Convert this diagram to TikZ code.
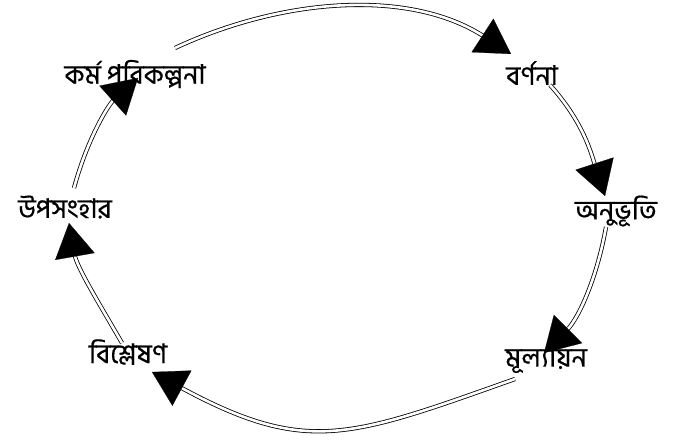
\documentclass[tikz,border=0pt]{standalone}
\usepackage{fontspec}
\newfontfamily\bnfont[Script=Bengali,FakeBold=0.6]{Hind Siliguri}
\usetikzlibrary{arrows.meta}
\tikzset{
  lbl/.style={font=\bnfont\fontsize{27}{30}\selectfont, inner sep=0pt},
  dbl/.style={draw=black, line width=0.8pt, double=white, double distance=2.6pt, shorten >=32pt},
  tipline/.style={draw=white, line width=0.2pt, -{Triangle[length=34pt,width=40pt,color=black]}}
}
\begin{document}
\begin{tikzpicture}[x=1pt,y=1pt]
\useasboundingbox (0,0) rectangle (679,439);
% labels
\node[lbl] (plan) at (135,365) {কর্ম পরিকল্পনা};
\node[lbl] (desc) at (532,366) {বর্ণনা};
\node[lbl] (feel) at (616,228) {অনুভূতি};
\node[lbl] (eval) at (546,79) {মূল্যায়ন};
\node[lbl] (anal) at (128,87) {বিশ্লেষণ};
\node[lbl] (conc) at (65,232) {উপসংহার};
% connector ends
\coordinate (plan-o) at (175,391);
\coordinate (desc-i) at (511,385);
\coordinate (desc-o) at (550,354);
\coordinate (feel-i) at (605,243);
\coordinate (feel-o) at (606,212);
\coordinate (eval-i) at (544,86);
\coordinate (eval-o) at (515,60);
\coordinate (anal-i) at (152,67);
\coordinate (anal-o) at (122,96);
\coordinate (conc-i) at (69,216);
\coordinate (conc-o) at (74,251);
\coordinate (plan-i) at (138,361);
% connectors
\foreach \a/\b/\c/\d in {plan-o/desc-i/{25:120}/{147:120},
                         desc-o/feel-i/{-48:50}/{108:45},
                         feel-o/eval-i/{-100:50}/{45:50},
                         eval-o/anal-i/{-160.5:176}/{-28.4:176},
                         anal-o/conc-i/{120:45}/{-80:45},
                         conc-o/plan-i/{75:50}/{-138.1:40}}{
  \draw[dbl] (\a) .. controls +(\c) and +(\d) .. (\b);
  \draw[tipline] (\a) .. controls +(\c) and +(\d) .. (\b);
}
\end{tikzpicture}
\end{document}
